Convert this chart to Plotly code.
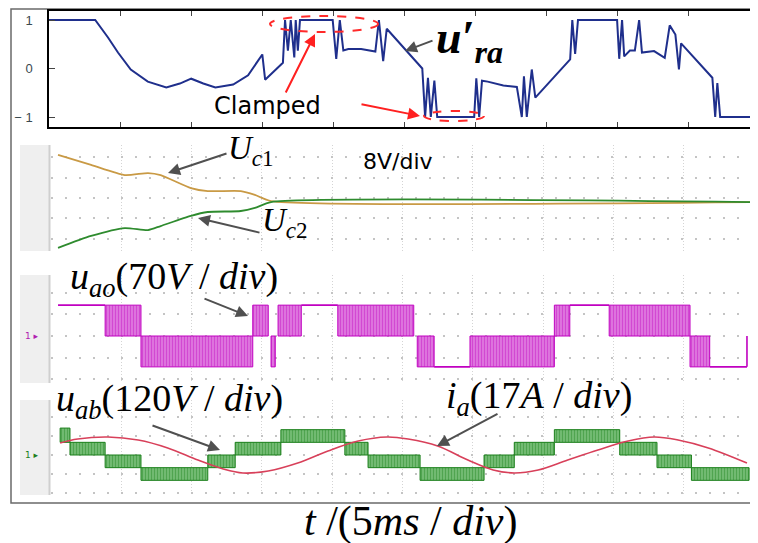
import plotly.graph_objects as go

W, H = 758, 543

# ---------------- data (time in divisions, 5 ms/div) ----------------
ura_t = [0, 0.65, 0.83, 0.97, 1.15, 1.39, 1.65, 1.84, 2.00, 2.17,
         2.34, 2.59, 2.80, 3.00, 3.04, 3.29, 3.32, 3.36, 3.40, 3.45,
         3.47, 3.50, 3.53, 3.99, 4.04, 4.09, 4.14, 4.21, 4.39, 4.59,
         4.64, 4.70, 4.75, 5.25, 5.29, 5.33, 5.37, 5.42, 5.46, 5.98,
         6.01, 6.05, 6.09, 6.17, 6.39, 6.58, 6.65, 6.68, 6.72, 6.79,
         6.84, 7.33, 7.36, 7.40, 7.44, 7.99, 8.02, 8.06, 8.09, 8.17,
         8.24, 8.30, 8.34, 8.51, 8.66, 8.73, 8.81, 8.86, 8.89, 9.33,
         9.37, 9.40, 9.44, 9.96, 9.99]
ura_v = [1, 1, 0.64, 0.33, -0.02, -0.27, -0.39, -0.31, -0.21, -0.31,
         -0.39, -0.33, -0.14, 0.29, -0.23, 0.12, 1, 0.37, 1, 0.23,
         1, 0.37, 1, 1, 0.2, 1, 0.37, 0.4, 0.4, 0.35,
         1, 0.15, 0.82, 0.0, -1, -0.19, -1, -0.25, -1, -1,
         -0.2, -1, -0.25, -0.27, -0.35, -0.38, -1, -0.16, -1, -0.02,
         -0.6, 0.19, 1, 0.3, 1, 1, 0.2, 1, 0.25, 0.37,
         0.37, 1, 0.33, 0.36, 0.22, 0.89, 0.7, -0.02, 0.52, -0.19,
         -1, -0.3, -1, -1, -0.3]

# capacitor voltages (V, relative to screen centre, 8 V/div)
uc_t = [0.10, 0.57, 1.05, 1.38, 1.56, 1.99, 2.23, 2.70, 2.90, 3.13, 10.0]
uc1_v = [16.9, 13.0, 9.0, 9.8, 9.0, 3.9, 2.7, 2.7, 1.2, -1.2, -1.6]
uc2_v = [-19.6, -14.9, -11.8, -12.6, -11.0, -7.0, -5.5, -5.1, -3.9, -1.6, -1.6]

# u_ao switching segments (V, 70 V/div)
ao_start = [0.10, 0.77, 1.28, 2.87, 3.13, 3.23, 3.56, 4.08, 5.21, 5.45, 5.96, 7.16, 7.38, 7.94, 9.09, 9.37, 9.90]
ao_end   = [0.77, 1.28, 2.87, 3.09, 3.19, 3.56, 4.08, 5.16, 5.45, 5.96, 7.16, 7.38, 7.94, 9.09, 9.37, 9.90, 9.90]
ao_low   = [100, 0, -100, 0, -100, 0, 100, 0, -100, -100, -100, 0, 100, 0, -100, -100, -100]
ao_high  = [100, 100, 0, 100, 0, 100, 100, 100, 0, -100, 0, 100, 100, 100, 0, -100, 0]

# u_ab switching segments (V, 120 V/div)
ab_start = [0.13, 0.27, 0.77, 1.28, 2.23, 2.62, 3.27, 4.18, 4.51, 5.25, 6.16, 6.59, 7.16, 8.09, 8.62, 9.11]
ab_end   = [0.27, 0.77, 1.28, 2.23, 2.62, 3.27, 4.18, 4.51, 5.25, 6.16, 6.59, 7.16, 8.09, 8.62, 9.11, 9.93]
ab_low   = [80, 0, -80, -160, -80, 0, 80, 0, -80, -160, -80, 0, 80, 0, -80, -160]
ab_high  = [170, 80, 0, -80, 0, 80, 160, 80, 0, -80, 0, 80, 160, 80, 0, -80]

# phase current i_a (A, 17 A/div)
ia_t = [0.13, 0.38, 0.81, 1.24, 1.66, 2.09, 2.45, 2.73, 3.09, 3.51, 3.94, 4.37, 4.78,
        5.08, 5.50, 5.93, 6.29, 6.59, 6.93, 7.35, 7.78, 8.21, 8.58, 8.92, 9.35, 9.90]
ia_v = [10.7, 14.3, 16.1, 13.4, 6.3, -4.5, -12.5, -16.1, -14.3, -7.2, 3.6, 12.5, 16.1,
        14.3, 8.1, -4.5, -13.4, -16.1, -13.4, -4.5, 4.5, 12.5, 16.1, 13.4, 6.3, -7.2]


def px(x):
    return x / W


def py(y):
    return 1 - y / H


fig = go.Figure()

# ---------------- top panel ----------------
fig.add_trace(go.Scatter(x=ura_t, y=ura_v, mode="lines",
                         line=dict(color="#1f2f8c", width=2),
                         xaxis="x", yaxis="y", showlegend=False))

# ---------------- strip 1 ----------------
fig.add_trace(go.Scatter(x=uc_t, y=uc1_v, mode="lines", line=dict(color="#c99a45", width=1.8, shape="spline", smoothing=0.6),
                         xaxis="x2", yaxis="y2", showlegend=False))
fig.add_trace(go.Scatter(x=uc_t, y=uc2_v, mode="lines", line=dict(color="#2e8b2e", width=1.8, shape="spline", smoothing=0.6),
                         xaxis="x2", yaxis="y2", showlegend=False))


def add_segments(starts, ends, lows, highs, xa, ya, fg, bg):
    for s, e, lo, hi in zip(starts, ends, lows, highs):
        if lo == hi or s == e:
            fig.add_trace(go.Scatter(x=[s, e], y=[lo, hi], mode="lines",
                                     line=dict(color=fg, width=1.6),
                                     xaxis=xa, yaxis=ya, showlegend=False))
        else:
            fig.add_trace(go.Scatter(x=[s, e, e, s, s], y=[lo, lo, hi, hi, lo], mode="lines",
                                     fill="toself", fillcolor=bg,
                                     fillpattern=dict(shape="|", size=3, solidity=0.6, fgcolor=fg, bgcolor=bg),
                                     line=dict(color=fg, width=1),
                                     xaxis=xa, yaxis=ya, showlegend=False))


# ---------------- strip 2 ----------------
add_segments(ao_start, ao_end, ao_low, ao_high, "x3", "y3", "#c000c0", "#e590e5")

# ---------------- strip 3 ----------------
add_segments(ab_start, ab_end, ab_low, ab_high, "x4", "y4", "#1a7f1a", "#86c886")
fig.add_trace(go.Scatter(x=ia_t, y=ia_v, mode="lines", line=dict(color="#d8405a", width=1.6, shape="spline"),
                         xaxis="x4", yaxis="y5", showlegend=False))

# ---------------- axes ----------------
top_dom_x = [px(41), px(752)]
strip_dom_x = [px(43), px(746)]

layout = dict(
    width=W, height=H, margin=dict(l=0, r=0, t=0, b=0),
    paper_bgcolor="white", plot_bgcolor="rgba(0,0,0,0)",
    xaxis=dict(domain=top_dom_x, range=[0, 10], tickvals=list(range(11)), ticks="inside", ticklen=5,
               showticklabels=False, showline=True, linecolor="black", linewidth=1.5, mirror="ticks",
               showgrid=False, zeroline=False, anchor="y"),
    yaxis=dict(domain=[py(119), py(3)], range=[-1.206, 1.186], tickvals=[-1, 0, 1], ticktext=["\u2212 1", "0", "1"],
               ticks="inside", ticklen=6, showline=True, linecolor="black", linewidth=1.5, mirror="ticks",
               showgrid=False, zeroline=False, anchor="x", ticklabelstandoff=12,
               tickfont=dict(family="Liberation Sans", size=13, color="#3a4a50")),
)

grid_x = dict(range=[0, 10], dtick=1, tick0=0, showgrid=True, gridcolor="#d4d4d4", griddash="1px,2px", gridwidth=1,
              showticklabels=False, ticks="", showline=False, zeroline=False, domain=strip_dom_x)


def grid_y(dom, rng, dt):
    return dict(domain=dom, range=rng, dtick=dt, tick0=0, showgrid=True, gridcolor="#c4c4c4",
                griddash="2px,12px", gridwidth=2, showticklabels=False, ticks="", showline=False, zeroline=False)


layout["xaxis2"] = dict(grid_x, anchor="y2")
layout["yaxis2"] = dict(grid_y([py(243), py(137)], [-20.8, 20.8], 8), anchor="x2")
layout["xaxis3"] = dict(grid_x, anchor="y3")
layout["yaxis3"] = dict(grid_y([py(375), py(267)], [-152.3, 197.7], 70), anchor="x3")
layout["xaxis4"] = dict(grid_x, anchor="y4")
layout["yaxis4"] = dict(grid_y([py(487), py(392)], [-252.6, 347.4], 120), anchor="x4")
layout["yaxis5"] = dict(domain=[py(487), py(392)], range=[-35.8, 49.2], overlaying="y4", anchor="x4",
                        visible=False, showgrid=False)

fig.update_layout(**layout)

# ---------------- shapes ----------------
shapes = []
shapes.append(dict(type="rect", xref="paper", yref="paper", x0=px(3), x1=px(752), y0=py(495), y1=py(1),
                   line=dict(color="#6a6a6a", width=1.5), fillcolor="rgba(0,0,0,0)", layer="below"))
for top, bot in [(137, 243), (267, 375), (392, 487)]:
    shapes.append(dict(type="rect", xref="paper", yref="paper", x0=px(12), x1=px(41), y0=py(bot), y1=py(top),
                       line=dict(width=0), fillcolor="#efefef", layer="below"))
    shapes.append(dict(type="line", xref="paper", yref="paper", x0=px(41.5), x1=px(41.5), y0=py(bot), y1=py(top),
                       line=dict(color="#cfcfcf", width=2), layer="below"))
    shapes.append(dict(type="rect", xref="paper", yref="paper", x0=px(746), x1=px(751), y0=py(bot), y1=py(top),
                       line=dict(width=0), fillcolor="#f1f1f1", layer="below"))
shapes.append(dict(type="circle", xref="paper", yref="paper", x0=px(262), x1=px(370), y0=py(24), y1=py(8),
                   line=dict(color="#ff2a2a", width=2, dash="dash")))
shapes.append(dict(type="circle", xref="paper", yref="paper", x0=px(416), x1=px(476), y0=py(113), y1=py(103),
                   line=dict(color="#ff2a2a", width=2, dash="dash")))
fig.update_layout(shapes=shapes)

# ---------------- annotations ----------------
ann = []
SERIF = "Liberation Serif"


def text(s, x, y, size, family=SERIF, color="black", xanchor="left", yanchor="middle"):
    ann.append(dict(text=s, x=px(x), y=py(y), xref="paper", yref="paper", showarrow=False,
                    xanchor=xanchor, yanchor=yanchor, font=dict(family=family, size=size, color=color)))


def arrow(hx, hy, tx, ty, color="#505050"):
    ann.append(dict(text="", x=px(hx), y=py(hy), xref="paper", yref="paper", showarrow=True,
                    ax=tx - hx, ay=ty - hy, axref="pixel", ayref="pixel",
                    arrowhead=2, arrowsize=1.2, arrowwidth=2, arrowcolor=color))


text("Clamped", 204, 98, 24, family="DejaVu Sans")
arrow(307, 26, 277, 86, color="#ff2020")
arrow(412, 108, 352, 96, color="#ff2020")
text("<b><i>u\u2032<sub>ra</sub></i></b>", 426, 33, 46)
arrow(397, 43, 426, 32)

text("<i>U</i><sub><i>c</i>1</sub>", 218, 142, 33)
arrow(160, 165, 220, 145)
text("8V/div", 353, 154, 22, family="DejaVu Sans")
text("<i>U</i><sub><i>c</i>2</sub>", 252, 214, 33)
arrow(190, 210, 253, 225)

text("<i>u</i><sub><i>ao</i></sub>(70<i>V</i> / <i>div</i>)", 60, 271, 38)
arrow(240, 308, 195, 290)
text("1 \u25b8", 15, 328, 9, family="DejaVu Sans", color="#b020b0")

text("<i>u</i><sub><i>ab</i></sub>(120<i>V</i> / <i>div</i>)", 46, 393, 38)
arrow(212, 442, 143, 417)
text("<i>i</i><sub><i>a</i></sub>(17<i>A</i> / <i>div</i>)", 436, 390, 38)
arrow(429, 438, 491, 405)
text("1 \u25b8", 15, 447, 9, family="DejaVu Sans", color="#208020")

text("<i>t</i> /(5<i>ms</i> / <i>div</i>)", 403, 513, 42, xanchor="center")

fig.update_layout(annotations=ann)

fig.write_html("out.html")
